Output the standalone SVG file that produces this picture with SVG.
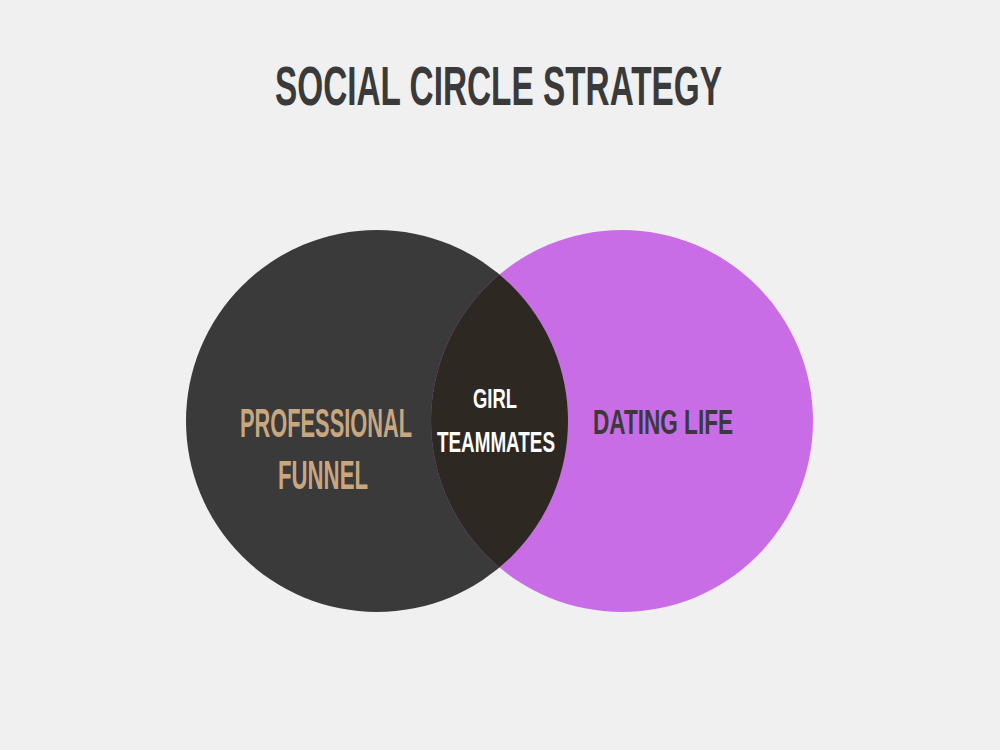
<svg xmlns="http://www.w3.org/2000/svg" width="1000" height="750" viewBox="0 0 1000 750">
  <style>
    .t { font-family: "Liberation Sans", Arial, sans-serif; font-weight: bold; text-anchor: middle; }
  </style>
  <defs>
    <clipPath id="leftClip">
      <circle cx="377" cy="421" r="191"/>
    </clipPath>
  </defs>
  <rect width="1000" height="750" fill="#f0f0f0"/>
  <text class="t" x="498.5" y="105" font-size="55" fill="#3a3a3a" textLength="447" lengthAdjust="spacingAndGlyphs">SOCIAL CIRCLE STRATEGY</text>
  <g id="professional-funnel">
    <circle cx="377" cy="421" r="191" fill="#3a3a3a"/>
  </g>
  <g id="dating-life">
    <circle cx="622" cy="421" r="191" fill="#c86de6"/>
  </g>
  <g id="girl-teammates">
    <circle cx="622" cy="421" r="191" fill="#2e2823" clip-path="url(#leftClip)"/>
  </g>
  <g id="labels">
    <text class="t" x="326" y="437" font-size="40" fill="#c8a77f" textLength="172" lengthAdjust="spacingAndGlyphs">PROFESSIONAL</text>
    <text class="t" x="323" y="489" font-size="40" fill="#c8a77f" textLength="90" lengthAdjust="spacingAndGlyphs">FUNNEL</text>
    <text class="t" x="495" y="408" font-size="27" fill="#ffffff" textLength="44" lengthAdjust="spacingAndGlyphs">GIRL</text>
    <text class="t" x="496" y="452" font-size="29" fill="#ffffff" textLength="118" lengthAdjust="spacingAndGlyphs">TEAMMATES</text>
    <text class="t" x="663" y="434" font-size="35" fill="#3a3a3a" textLength="140" lengthAdjust="spacingAndGlyphs">DATING LIFE</text>
  </g>
  <g id="connectors"/>
</svg>
